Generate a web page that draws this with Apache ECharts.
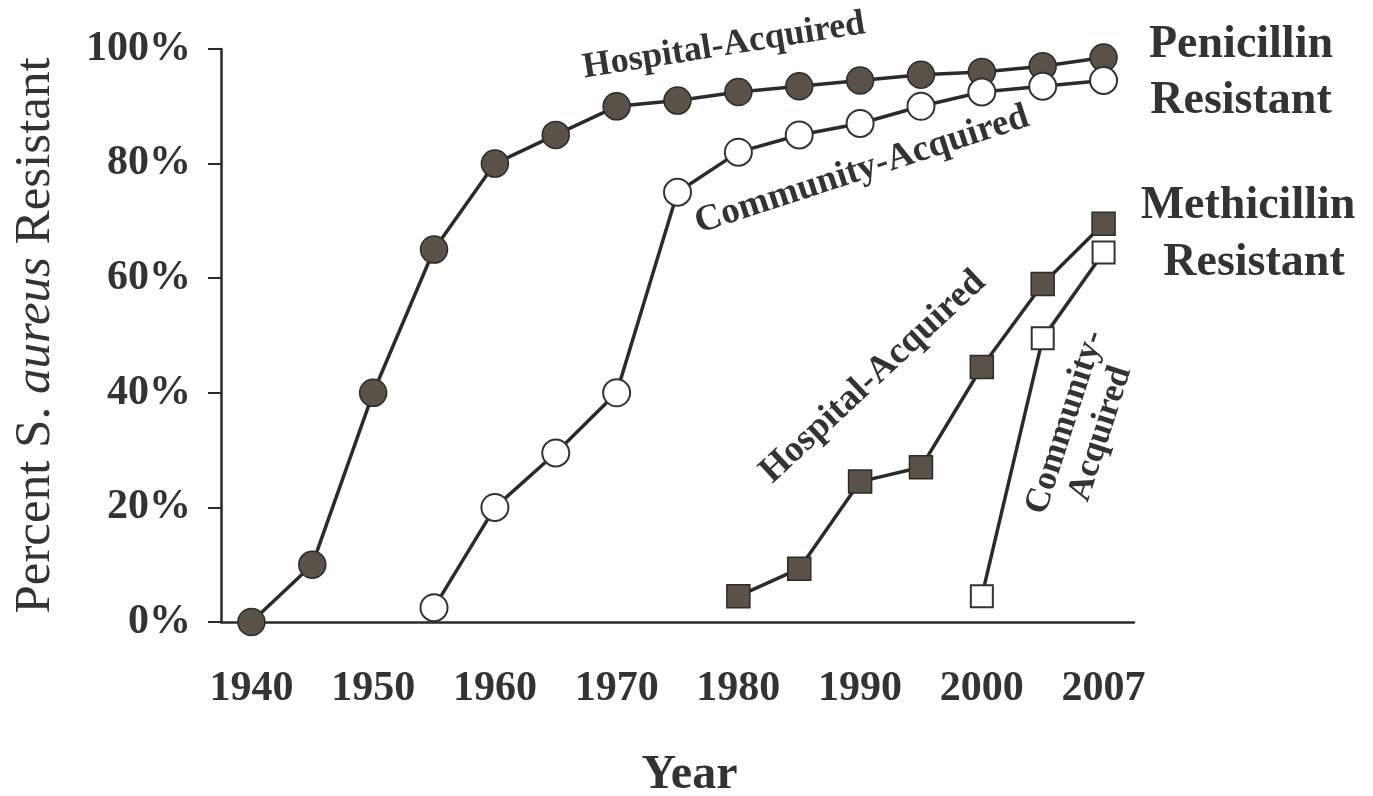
<!DOCTYPE html>
<html>
<head>
<meta charset="utf-8">
<title>S. aureus resistance</title>
<script src="https://cdn.jsdelivr.net/npm/echarts@6/dist/echarts.min.js"></script>
<style>
  html, body { margin: 0; padding: 0; background: #fff; }
  #chart { width: 1373px; height: 796px; }
</style>
</head>
<body>
<div id="chart"></div>
<script>
// year categories (5-year bands, last one is 2007)
var years = ['1940', '1945', '1950', '1955', '1960', '1965', '1970', '1975',
  '1980', '1985', '1990', '1995', '2000', '2005', '2007'];

// penicillin resistant, %
var penHospital = [0, 10, 40, 65, 80, 85, 90, 91, 92.5, 93.5, 94.5, 95.5, 96, 97, 98.5];
var penCommunity = [null, null, null, 2.5, 20, 29.5, 40, 75, 82, 85, 87, 90, 92.5, 93.5, 94.5];

// methicillin resistant, %
var metHospital = [null, null, null, null, null, null, null, null, 4.5, 9.3, 24.5, 27, 44.5, 59, 69.5];
var metCommunity = [null, null, null, null, null, null, null, null, null, null, null, null, 4.5, 49.5, 64.5];

var SERIF = '"Liberation Serif", "DejaVu Serif", serif';
var INK = '#2b2b2b';
var FILL = '#5a5149';

var chart = echarts.init(document.getElementById('chart'));

function lineSeries(name, data, symbol, size, filled) {
  return {
    name: name,
    type: 'line',
    data: data,
    symbol: symbol,
    symbolSize: size,
    showAllSymbol: true,
    lineStyle: { color: INK, width: 3.5 },
    itemStyle: {
      color: filled ? FILL : '#fff',
      borderColor: filled ? '#2e2a26' : '#333',
      borderWidth: filled ? 1.5 : 2
    },
    emphasis: { disabled: true }
  };
}

// rotated/side text labels
function note(text, x, y, deg, size, bold) {
  return {
    type: 'text',
    x: x,
    y: y,
    rotation: deg * Math.PI / 180,
    z: 10,
    style: {
      text: text,
      fill: '#333',
      font: (bold ? 'bold ' : '') + size + 'px ' + SERIF,
      align: 'center',
      verticalAlign: 'middle',
      lineHeight: size * 1.05
    }
  };
}

var option = {
  animation: false,
  backgroundColor: '#fff',
  grid: {
    left: 221, right: 239, top: 49, bottom: 174,
    containLabel: false,
    outerBoundsMode: 'none'
  },
  xAxis: {
    type: 'category',
    data: years,
    boundaryGap: true,
    name: 'Year',
    nameLocation: 'middle',
    nameGap: 130,
    nameTextStyle: { fontFamily: SERIF, fontWeight: 'bold', fontSize: 48, color: '#333', padding: [0, 0, 0, 24] },
    axisLine: { lineStyle: { color: INK, width: 2.5 } },
    axisTick: { interval: 0, length: 12, lineStyle: { color: INK, width: 2 } },
    axisLabel: {
      interval: 1,
      margin: 46,
      fontFamily: SERIF,
      fontWeight: 'bold',
      fontSize: 42,
      color: '#333'
    },
    splitLine: { show: false }
  },
  yAxis: {
    type: 'value',
    min: 0,
    max: 100,
    interval: 20,
    name: '{r|Percent S. }{i|aureus}{r| Resistant}',
    nameLocation: 'middle',
    nameRotate: 90,
    nameGap: 160,
    nameTextStyle: {
      rich: {
        r: { fontFamily: SERIF, fontSize: 51, color: '#333' },
        i: { fontFamily: SERIF, fontSize: 51, fontStyle: 'italic', color: '#333' }
      }
    },
    axisLine: { show: true, lineStyle: { color: INK, width: 2.5 } },
    axisTick: { show: true, length: 13, lineStyle: { color: INK, width: 2 } },
    axisLabel: {
      formatter: '{value}%',
      margin: 30,
      fontFamily: SERIF,
      fontWeight: 'bold',
      fontSize: 42,
      color: '#333'
    },
    splitLine: { show: false }
  },
  series: [
    lineSeries('Penicillin hospital', penHospital, 'circle', 27, true),
    lineSeries('Penicillin community', penCommunity, 'circle', 27, false),
    lineSeries('Methicillin hospital', metHospital, 'rect', 23, true),
    lineSeries('Methicillin community', metCommunity, 'rect', 22, false)
  ],
  graphic: [
    note('Hospital-Acquired', 724, 46, 9, 36, true),
    note('Community-Acquired', 862, 170, 18, 37, true),
    note('Hospital-Acquired', 873, 377, 43, 37, true),
    note('Community-\nAcquired', 1083, 428, 72, 35, true),
    note('Penicillin', 1241, 45, 0, 46, true),
    note('Resistant', 1241, 101, 0, 46, true),
    note('Methicillin', 1248, 206, 0, 46, true),
    note('Resistant', 1254, 263, 0, 46, true)
  ]
};

chart.setOption(option);
</script>
</body>
</html>
